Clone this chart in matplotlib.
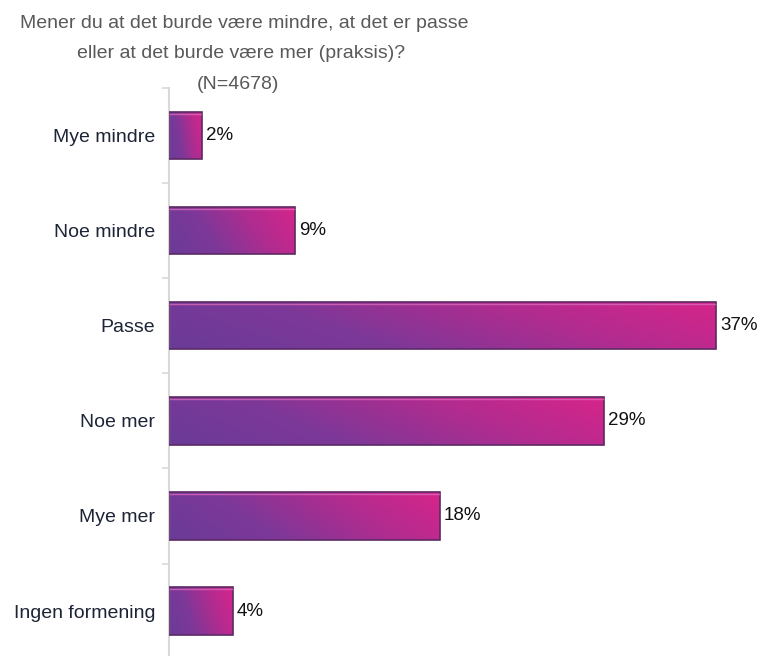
import matplotlib
matplotlib.use("Agg")
import matplotlib.pyplot as plt
import numpy as np
from matplotlib.colors import LinearSegmentedColormap
from matplotlib.patches import Rectangle

categories = ["Mye mindre", "Noe mindre", "Passe", "Noe mer", "Mye mer", "Ingen formening"]
values = [2.2, 8.5, 37.0, 29.4, 18.3, 4.3]
value_labels = ["2%", "9%", "37%", "29%", "18%", "4%"]
title_lines = ["Mener du at det burde være mindre, at det er passe",
               "eller at det burde være mer (praksis)?",
               "(N=4678)"]

plt.rcParams['font.family'] = ['Liberation Sans', 'DejaVu Sans']

fig = plt.figure(figsize=(7.64, 6.56), dpi=100)
ax = fig.add_axes([169/764, -0.004, 595/764, 0.870])

cmap = LinearSegmentedColormap.from_list("grad", ["#6a3b98", "#7d3898", "#b02c90", "#d6258a"])

bar_h = 0.5
n = len(categories)
for i, v in enumerate(values):
    y0 = i - bar_h / 2
    nx, ny = 200, 40
    u = np.linspace(0, 1, nx)[None, :]
    w = np.linspace(0, 1, ny)[:, None]
    t = 0.8 * u + 0.2 * (1 - w)
    img = ax.imshow(t, cmap=cmap, vmin=0, vmax=1, extent=[0, v, i + bar_h / 2, i - bar_h / 2],
                    origin='upper', aspect='auto', interpolation='bilinear', zorder=2)
    rect = Rectangle((0, y0), v, bar_h, facecolor='none', edgecolor='#5b2a63', linewidth=1.2, zorder=3)
    ax.add_patch(rect)
    img.set_clip_path(rect)
    ax.plot([0.05, v - 0.05], [y0 + 0.02, y0 + 0.02], color='#d968b8', lw=1.0, alpha=0.8, zorder=3)
    ax.text(v + 0.3, i, value_labels[i], va='center', ha='left', fontsize=13.5, color='#111111', zorder=4)

ax.set_xlim(0, 40.25)
ax.set_ylim(n - 0.5, -0.5)
ax.set_aspect('auto')

ax.set_yticks(np.arange(-0.5, n + 0.5, 1.0))
ax.set_yticklabels([])
ax.tick_params(axis='y', which='major', length=5, width=1.2, color='#d9d9d9', direction='out')
ax.set_yticks(np.arange(n), minor=True)
ax.set_yticklabels(categories, minor=True, fontsize=14, color='#1c2436')
ax.tick_params(axis='y', which='minor', length=0, pad=10)
ax.set_xticks([])

for s in ['top', 'right', 'bottom']:
    ax.spines[s].set_visible(False)
ax.spines['left'].set_color('#d9d9d9')
ax.spines['left'].set_linewidth(1.5)

title_x = [244, 241, 238]
title_y = [28, 58, 89]
for line, tx, ty in zip(title_lines, title_x, title_y):
    fig.text(tx/764, 1 - ty/656, line, ha='center', va='baseline', fontsize=14,
             color='#595959')

fig.savefig("out.png", dpi=100)
